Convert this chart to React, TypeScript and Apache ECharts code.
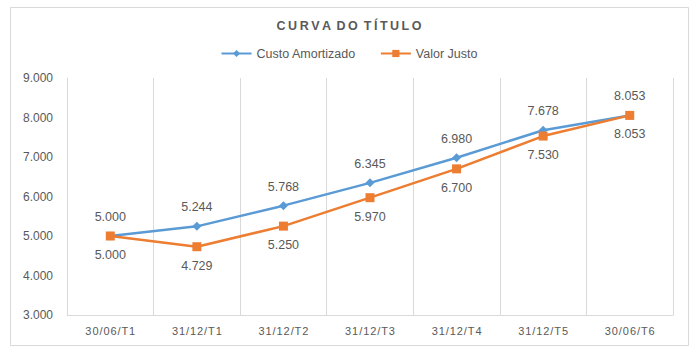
import React, { useEffect, useRef } from "react";
import * as echarts from "echarts";

const categories = ["30/06/T1", "31/12/T1", "31/12/T2", "31/12/T3", "31/12/T4", "31/12/T5", "30/06/T6"];
const custoAmortizado = [5000, 5244, 5768, 6345, 6980, 7678, 8053];
const valorJusto = [5000, 4729, 5250, 5970, 6700, 7530, 8053];

const fmt = (v: number) => {
  const s = Math.round(v).toString();
  return s.length > 3 ? s.slice(0, s.length - 3) + "." + s.slice(s.length - 3) : s;
};

const spaced = (t: string, sp: string) =>
  t.split(" ").map((w) => w.split("").join(sp)).join(" " + sp);

export default function App() {
  const ref = useRef<HTMLDivElement>(null);
  useEffect(() => {
    if (!ref.current) return;
    const chart = echarts.init(ref.current, null, { renderer: "svg" });
    const font = "Liberation Sans, Arial, sans-serif";
    chart.setOption({
      animation: false,
      backgroundColor: "#ffffff",
      textStyle: { fontFamily: font },
      graphic: [
        {
          type: "rect",
          shape: { x: 10.5, y: 7.5, width: 678, height: 338 },
          style: { fill: "none", stroke: "#d9d9d9", lineWidth: 1 },
          z: -1,
        },
      ],
      title: {
        text: spaced("CURVA DO TÍTULO", "\u2009"),
        left: "center",
        top: 14,
        textStyle: { fontFamily: font, fontSize: 12.5, fontWeight: "bold", color: "#595959" },
      },
      legend: {
        top: 42,
        left: "center",
        itemWidth: 30,
        itemHeight: 9,
        itemGap: 24,
        textStyle: { fontFamily: font, fontSize: 12.5, color: "#595959" },
        data: ["Custo Amortizado", "Valor Justo"],
      },
      grid: { left: 67, right: 25, top: 78, bottom: 39 },
      xAxis: {
        type: "category",
        data: categories,
        boundaryGap: true,
        axisLine: { show: true, lineStyle: { color: "#d9d9d9" } },
        axisTick: { show: false },
        splitLine: { show: true, lineStyle: { color: "#d9d9d9" } },
        axisLabel: {
          color: "#595959",
          fontSize: 11,
          margin: 10,
          fontFamily: font,
          formatter: (v: string) => v.split("").join("\u200A"),
        },
      },
      yAxis: {
        type: "value",
        min: 3000,
        max: 9000,
        interval: 1000,
        axisLine: { show: true, lineStyle: { color: "#d9d9d9" } },
        axisTick: { show: false },
        splitLine: { show: false },
        axisLabel: { color: "#595959", fontSize: 12, margin: 14, fontFamily: font, formatter: (v: number) => fmt(v) },
      },
      series: [
        {
          name: "Custo Amortizado",
          type: "line",
          data: custoAmortizado,
          symbol: "diamond",
          symbolSize: 9,
          itemStyle: { color: "#5B9BD5" },
          lineStyle: { color: "#5B9BD5", width: 2.5 },
          label: {
            show: true,
            position: "top",
            distance: 8,
            color: "#595959",
            fontSize: 12.5,
            fontFamily: font,
            formatter: (p: any) => fmt(p.value),
          },
          z: 2,
        },
        {
          name: "Valor Justo",
          type: "line",
          data: valorJusto,
          symbol: "rect",
          symbolSize: 9,
          itemStyle: { color: "#ED7D31" },
          lineStyle: { color: "#ED7D31", width: 2.5 },
          label: {
            show: true,
            position: "bottom",
            distance: 8,
            color: "#595959",
            fontSize: 12.5,
            fontFamily: font,
            formatter: (p: any) => fmt(p.value),
          },
          z: 3,
        },
      ],
    });
    return () => chart.dispose();
  }, []);
  return <div ref={ref} style={{ position: "absolute", left: 0, top: 0, width: 698, height: 354 }} />;
}
